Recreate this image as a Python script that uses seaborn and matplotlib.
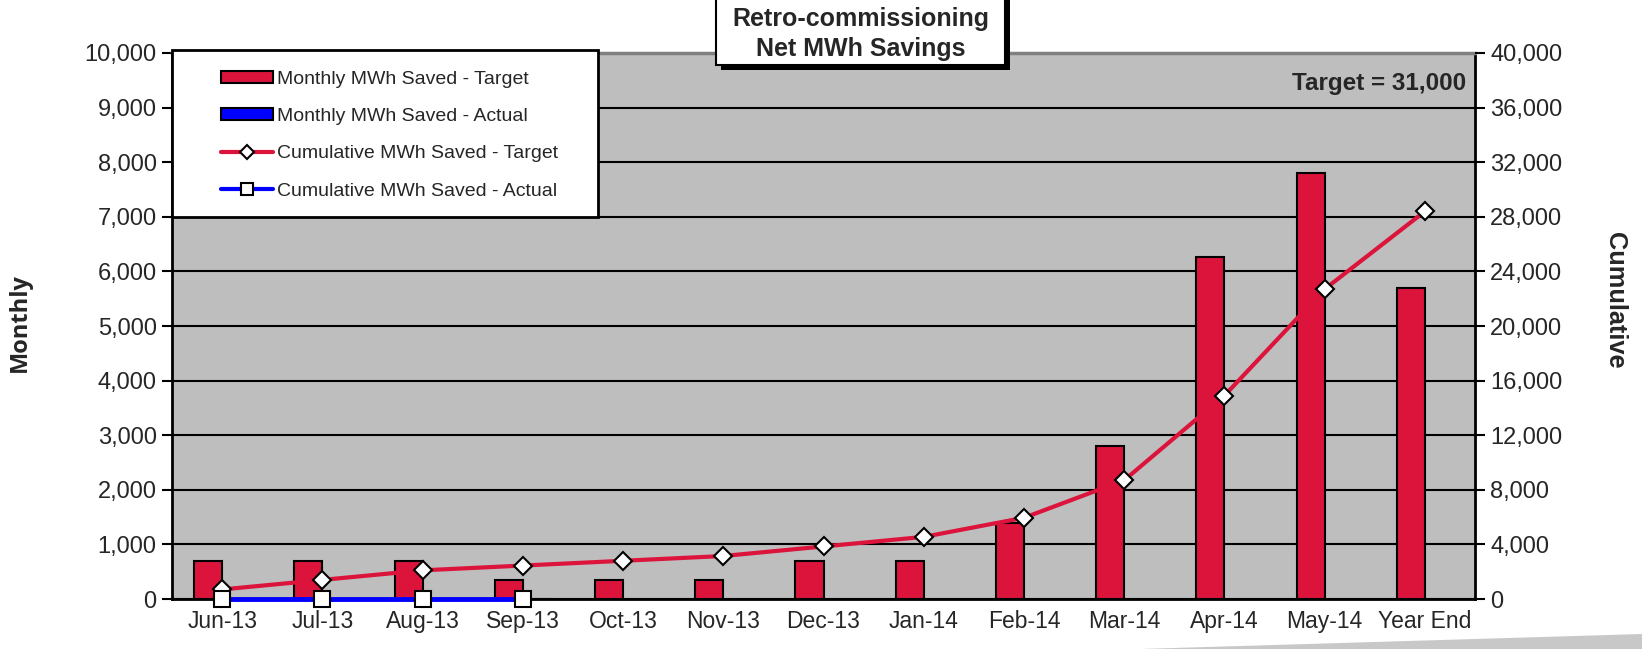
import numpy as np
import pandas as pd
import matplotlib
matplotlib.use("Agg")
import matplotlib.pyplot as plt
import seaborn as sns
from matplotlib.patches import Rectangle, Polygon
from matplotlib.lines import Line2D
from matplotlib.ticker import FuncFormatter, MultipleLocator, FixedLocator

# ---------------- data ----------------
months = ["Jun-13", "Jul-13", "Aug-13", "Sep-13", "Oct-13", "Nov-13", "Dec-13",
          "Jan-14", "Feb-14", "Mar-14", "Apr-14", "May-14", "Year End"]
monthly_target = [700, 700, 700, 350, 350, 350, 700, 700, 1400, 2800, 6270, 7800, 5700]
monthly_actual = [0, 0, 0, 0, np.nan, np.nan, np.nan, np.nan, np.nan, np.nan, np.nan, np.nan, np.nan]
cum_target = [700, 1400, 2100, 2450, 2800, 3150, 3850, 4550, 5950, 8700, 14900, 22700, 28400]
cum_actual = [0, 0, 0, 0]
series_names = ["Monthly MWh Saved - Target", "Monthly MWh Saved - Actual",
                "Cumulative MWh Saved - Target", "Cumulative MWh Saved - Actual"]

RED = "#DC143C"
BLUE = "#0000FF"

sns.set_style("white")
plt.rcParams["font.family"] = ["Liberation Sans", "DejaVu Sans"]

W, H = 1642, 649
def fx(px):
    return px / W
def fy(py):
    return 1 - py / H

fig = plt.figure(figsize=(W / 100, H / 100), dpi=100)
ax = fig.add_axes([fx(172), fy(599), (1475 - 172) / W, (599 - 53) / H])
ax.set_facecolor("#BEBEBE")

bar_df = pd.DataFrame({
    "month": months * 2,
    "value": monthly_target + monthly_actual,
    "series": [series_names[0]] * len(months) + [series_names[1]] * len(months),
})
sns.barplot(data=bar_df, x="month", y="value", hue="series", order=months,
            hue_order=series_names[:2], palette={series_names[0]: RED, series_names[1]: BLUE},
            saturation=1, width=0.56, edgecolor="black", linewidth=1.5, ax=ax,
            legend=False, zorder=3)

ax.set_xlim(-0.5, len(months) - 0.5)
ax.set_ylim(0, 10000)
ax.yaxis.set_major_locator(MultipleLocator(1000))
ax.yaxis.set_major_formatter(FuncFormatter(lambda v, p: f"{int(v):,}"))
ax.grid(axis="y", color="black", lw=1.5, zorder=1)
ax.set_axisbelow(True)
ax.set_xlabel("")
ax.set_ylabel("")
ax.tick_params(axis="x", which="major", length=0, labelsize=16.5, pad=8)
ax.set_xticks(np.arange(len(months)))
ax.set_xticklabels(months)
ax.xaxis.set_minor_locator(FixedLocator(np.arange(-0.5, len(months), 1.0)))
ax.tick_params(axis="x", which="minor", length=6, width=1.5, color="black", direction="out")
ax.tick_params(axis="y", length=7, width=1.5, color="black", direction="out", labelsize=17,
               left=True, pad=4)

for s in ["left", "bottom", "right"]:
    ax.spines[s].set_color("black")
    ax.spines[s].set_linewidth(2)
ax.spines["top"].set_color("#808080")
ax.spines["top"].set_linewidth(2.5)

ax2 = ax.twinx()
x_pos = np.arange(len(months))
sns.lineplot(x=x_pos, y=cum_target, ax=ax2, color=RED, lw=3, marker="D", markersize=9.5,
             markerfacecolor="white", markeredgecolor="black", markeredgewidth=1.5, zorder=5)
sns.lineplot(x=x_pos[:len(cum_actual)], y=cum_actual, ax=ax2, color=BLUE, lw=3.5, marker="s",
             markersize=11, markerfacecolor="white", markeredgecolor="black", markeredgewidth=1.5,
             zorder=6, clip_on=False)
ax2.set_ylim(0, 40000)
ax2.set_xlim(-0.5, len(months) - 0.5)
ax2.yaxis.set_major_locator(MultipleLocator(4000))
ax2.yaxis.set_major_formatter(FuncFormatter(lambda v, p: f"{int(v):,}"))
ax2.tick_params(axis="y", length=7, width=1.5, color="black", direction="out", labelsize=17,
                right=True, pad=4)
ax2.set_ylabel("")
for s in ax2.spines.values():
    s.set_visible(False)

# axis titles
fig.text(fx(20), fy(322), "Monthly", rotation=90, ha="center", va="center", fontsize=17,
         fontweight="bold", family=["Open Sans", "DejaVu Sans"])
fig.text(fx(1615), fy(300), "Cumulative", rotation=270, ha="center", va="center",
         fontsize=18.3, fontweight="bold")

# target annotation
ax2.text(0.993, 0.945, "Target = 31,000", transform=ax2.transAxes, ha="right", va="center",
         fontsize=17.5, fontweight="bold", zorder=10)

# legend box
lx0, lx1 = 172, 598
ly0, ly1 = 50, 217
fig.patches.append(Rectangle((fx(lx0), fy(ly1)), fx(lx1) - fx(lx0), fy(ly0) - fy(ly1),
                             transform=fig.transFigure, facecolor="white", edgecolor="black",
                             lw=2, zorder=8))
handles = [
    Rectangle((0, 0), 1, 1, facecolor=RED, edgecolor="black", lw=1.5),
    Rectangle((0, 0), 1, 1, facecolor=BLUE, edgecolor="black", lw=1.5),
    Line2D([], [], color=RED, lw=3, marker="D", markersize=7, markerfacecolor="white",
           markeredgecolor="black", markeredgewidth=1.5),
    Line2D([], [], color=BLUE, lw=3, marker="s", markersize=8, markerfacecolor="white",
           markeredgecolor="black", markeredgewidth=1.5),
]
leg = fig.legend(handles, series_names, loc="upper left", bbox_to_anchor=(fx(205), fy(55)),
                 frameon=False, fontsize=14, handlelength=2.7, handleheight=0.55,
                 handletextpad=0.2, labelspacing=1.05, borderpad=0.3, numpoints=1)
leg.set_zorder(9)

# title box with shadow
tx0, tx1, ty0, ty1 = 716, 1005, -5, 65
fig.patches.append(Rectangle((fx(tx0 + 5), fy(ty1 + 5)), fx(tx1) - fx(tx0), fy(ty0) - fy(ty1),
                             transform=fig.transFigure, facecolor="black", edgecolor="black",
                             lw=0, zorder=8))
fig.patches.append(Rectangle((fx(tx0), fy(ty1)), fx(tx1) - fx(tx0), fy(ty0) - fy(ty1),
                             transform=fig.transFigure, facecolor="white", edgecolor="black",
                             lw=1.5, zorder=9))
fig.text(fx((tx0 + tx1) / 2), fy(34), "Retro-commissioning\nNet MWh Savings", ha="center",
         va="center", fontsize=18, fontweight="bold", linespacing=1.35, zorder=10)

# decorative wedge bottom-right
fig.patches.append(Polygon([(fx(1140), fy(649)), (fx(1642), fy(634)), (fx(1642), fy(649))],
                           closed=True, transform=fig.transFigure, facecolor="#C8C8C8",
                           edgecolor="none", zorder=1))

fig.savefig("out.png", dpi=100)
